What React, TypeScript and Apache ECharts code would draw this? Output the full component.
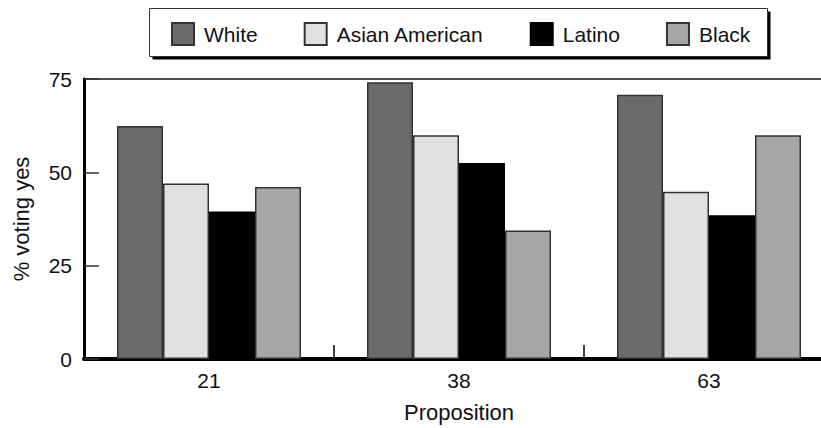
import React, { useEffect, useRef } from "react";
import * as echarts from "echarts";

const categories = ["21", "38", "63"];
const seriesNames = ["White", "Asian American", "Latino", "Black"];
const whiteValues = [62.4, 74.1, 70.8];
const asianValues = [47.0, 59.9, 44.8];
const latinoValues = [39.5, 52.5, 38.5];
const blackValues = [46.1, 34.4, 59.9];
const yTicks = { min: 0, max: 75, interval: 25 };

const colors = ["#6b6b6b", "#e0e0e0", "#000000", "#a6a6a6"];
const borders = ["#333333", "#333333", "#000000", "#333333"];

const FONT = '"Liberation Sans", Arial, Helvetica, sans-serif';

export default function App() {
  const ref = useRef<HTMLDivElement>(null);
  useEffect(() => {
    if (!ref.current) return;
    const chart = echarts.init(ref.current, null, { renderer: "svg" });
    const values = [whiteValues, asianValues, latinoValues, blackValues];
    chart.setOption({
      animation: false,
      textStyle: { fontFamily: FONT, color: "#111" },
      graphic: [
        {
          type: "rect",
          z: 0,
          shape: { x: 152.5, y: 11.5, width: 618, height: 48 },
          style: { fill: "#000" },
        },
        {
          type: "rect",
          z: 1,
          shape: { x: 149.5, y: 8.5, width: 618, height: 48 },
          style: { fill: "#fff", stroke: "#333", lineWidth: 1 },
        },
      ],
      legend: {
        z: 10,
        data: seriesNames,
        left: 171,
        top: 22,
        padding: 0,
        itemWidth: 22,
        itemHeight: 22,
        itemGap: 46,
        icon: "rect",
        selectedMode: false,
        textStyle: {
          fontFamily: FONT,
          fontSize: 21,
          color: "#111",
          padding: [0, 0, 0, 5],
        },
      },
      grid: {
        left: 84,
        top: 79,
        width: 750,
        height: 280,
        show: true,
        borderColor: "#4d4d4d",
        borderWidth: 2,
        backgroundColor: "transparent",
      },
      xAxis: {
        type: "category",
        data: categories,
        name: "Proposition",
        nameLocation: "middle",
        nameGap: 42,
        nameTextStyle: { fontSize: 22, color: "#111", fontFamily: FONT },
        axisLine: { show: true, lineStyle: { color: "#000", width: 4 } },
        axisTick: {
          show: true,
          inside: true,
          length: 14,
          lineStyle: { color: "#000", width: 1.5 },
        },
        axisLabel: { fontSize: 21, color: "#111", margin: 11, fontFamily: FONT },
        splitLine: { show: false },
      },
      yAxis: {
        type: "value",
        min: yTicks.min,
        max: yTicks.max,
        interval: yTicks.interval,
        name: "% voting yes",
        nameLocation: "middle",
        nameRotate: 90,
        nameGap: 52,
        nameTextStyle: { fontSize: 22, color: "#111", fontFamily: FONT },
        axisLine: { show: true, lineStyle: { color: "#000", width: 3 } },
        axisTick: {
          show: true,
          inside: true,
          length: 15,
          lineStyle: { color: "#333", width: 1.5 },
        },
        axisLabel: { fontSize: 21, color: "#111", margin: 12, fontFamily: FONT },
        splitLine: { show: false },
      },
      series: seriesNames.map((name, i) => ({
        name,
        type: "bar",
        data: values[i],
        barWidth: 46,
        barGap: "0%",
        itemStyle: {
          color: colors[i],
          borderColor: borders[i],
          borderWidth: 1.5,
        },
      })),
    });
    return () => chart.dispose();
  }, []);
  return (
    <div
      style={{
        position: "absolute",
        left: 0,
        top: 0,
        width: 821,
        height: 428,
        overflow: "hidden",
        background: "#fff",
      }}
    >
      <div ref={ref} style={{ width: 840, height: 428 }} />
    </div>
  );
}
